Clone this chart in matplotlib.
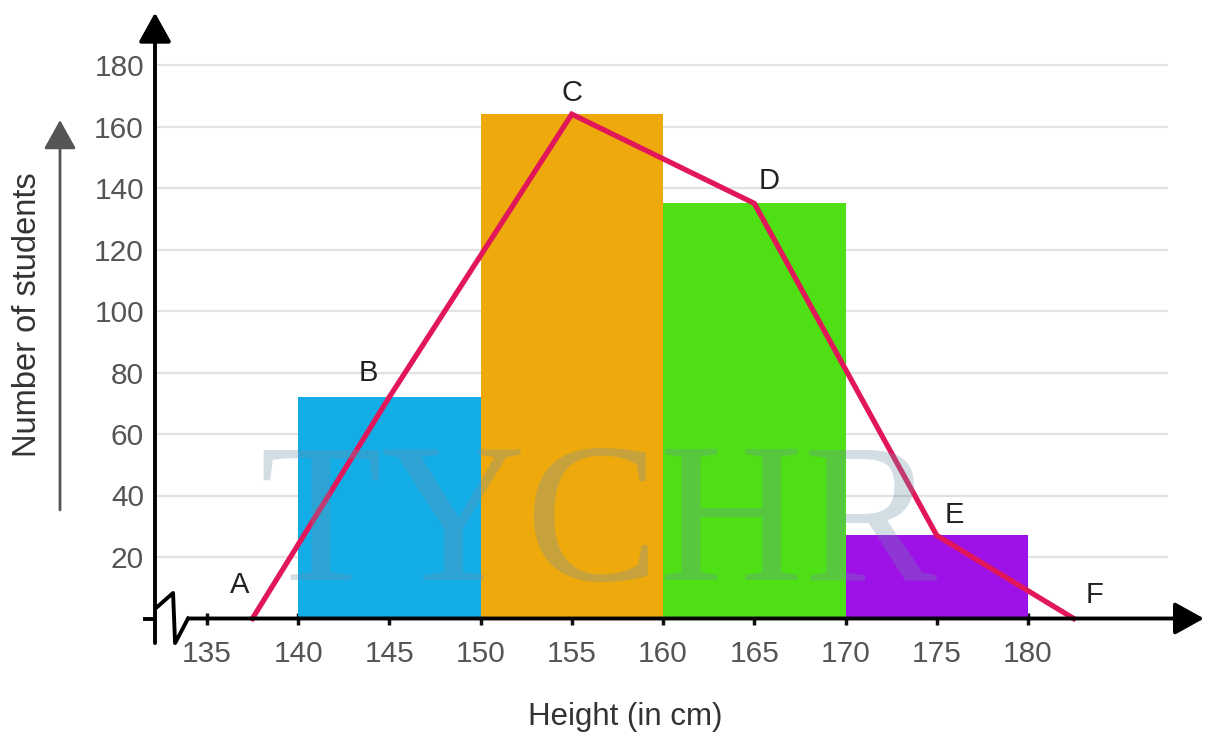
import matplotlib
matplotlib.use("Agg")
import matplotlib.pyplot as plt

# histogram classes (height in cm) and frequencies
bin_left = [140, 150, 160, 170]
bin_width = 10
freq = [72, 164, 135, 27]
bar_colors = ["#12ade6", "#eeaa0c", "#4ee014", "#9e12e8"]

# frequency polygon points A..F
poly_x = [137.5, 145, 155, 165, 175, 182.5]
poly_y = [0, 72, 164, 135, 27, 0]
poly_lbl = ["A", "B", "C", "D", "E", "F"]
lbl_off = [(-9, 24), (-15, 17), (0, 15), (11, 16), (13, 15), (15, 17)]

xticks = [135, 140, 145, 150, 155, 160, 165, 170, 175, 180]
yticks = [20, 40, 60, 80, 100, 120, 140, 160, 180]

plt.rcParams["font.family"] = ["Liberation Sans", "DejaVu Sans"]

W, H = 1206, 733
fig = plt.figure(figsize=(W / 100, H / 100), dpi=100)
ax = fig.add_axes([155 / W, 1 - 618.5 / H, (1168 - 155) / W, (618.5 - 34.25) / H])
ax.set_xlim(132.16, 187.67)
ax.set_ylim(0, 190)
for s in ax.spines.values():
    s.set_visible(False)

ax.set_yticks(yticks)
ax.grid(axis="y", color="#e2e2e2", lw=1.6, zorder=0)
ax.tick_params(axis="y", length=0, pad=8, labelsize=21.5, labelcolor="#555555")
ax.set_xticks(xticks)
ax.tick_params(axis="x", direction="inout", length=9, width=2.5, color="#111111",
               pad=11, labelsize=21.5, labelcolor="#555555")

ax.bar(bin_left, freq, width=bin_width, align="edge", color=bar_colors, zorder=2)
ax.plot(poly_x, poly_y, color="#e2175a", lw=3.8, zorder=4, clip_on=False, solid_joinstyle="miter")
for x, y, t, off in zip(poly_x, poly_y, poly_lbl, lbl_off):
    ax.annotate(t, (x, y), xytext=off, textcoords="offset points", ha="center", va="center",
                fontsize=21, color="#222222", zorder=6, annotation_clip=False)

# axes with arrow heads
arrow = dict(arrowstyle="-|>,head_length=0.9,head_width=0.5", mutation_scale=20,
             lw=2.8, color="black", shrinkA=0, shrinkB=0)
ax.annotate("", xy=(0, 197), xytext=(0, -8), xycoords=ax.get_yaxis_transform(),
            arrowprops=arrow, annotation_clip=False, zorder=5)
ax.annotate("", xy=(189.64, 0), xytext=(133.97, 0), xycoords=ax.get_xaxis_transform(),
            arrowprops=arrow, annotation_clip=False, zorder=5)
# axis break
ax.plot([131.61, 132.16], [0, 0], color="black", lw=2.8, clip_on=False, zorder=5)
ax.plot([132.27, 133.15, 133.26, 133.97], [3.7, 8.3, -8, 0], color="black", lw=2.8,
        clip_on=False, zorder=5)

# axis titles
fig.text(28 / W, 1 - 315 / H, "Number of students", rotation=90, ha="center", va="center",
         fontsize=23.5, color="#333333")
fig.text(625 / W, 1 - 717 / H, "Height (in cm)", ha="center", va="center",
         fontsize=22.5, color="#333333")
ax.annotate("", xy=(60, H - 120), xytext=(60, H - 510), xycoords="figure pixels",
            arrowprops=dict(arrowstyle="-|>,head_length=0.9,head_width=0.5", mutation_scale=20,
                            lw=2, color="#555555", shrinkA=0, shrinkB=0),
            annotation_clip=False)

# watermark
fig.text(598 / W, 1 - 580 / H, "TYCHR", ha="center", va="baseline", fontsize=144,
         family="Liberation Serif", color="#6f8fa8", alpha=0.3, zorder=5)

fig.savefig("out.png", dpi=100, facecolor="white")
